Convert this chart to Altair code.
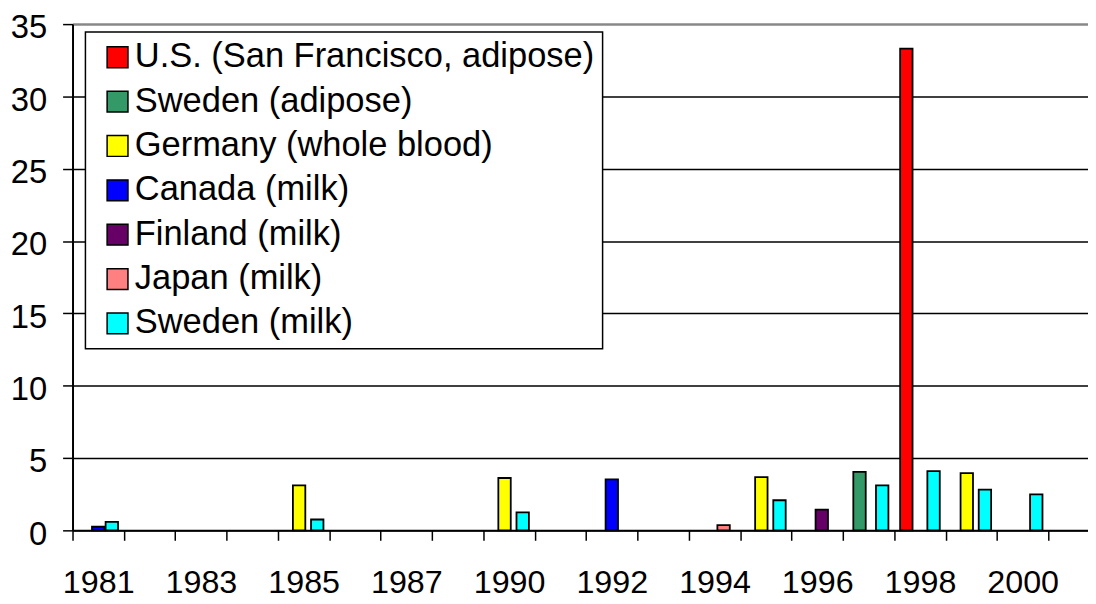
import json
import altair as alt
import pandas as pd

# ---- categories ----
years = ["1981", "1982", "1983", "1984", "1985", "1986", "1987", "1988", "1990", "1991",
         "1992", "1993", "1994", "1995", "1996", "1997", "1998", "1999", "2000", "2001"]
year_labels = ["1981", "1983", "1985", "1987", "1990", "1992", "1994", "1996", "1998", "2000"]

series_names = ["U.S. (San Francisco, adipose)", "Sweden (adipose)", "Germany (whole blood)",
                "Canada (milk)", "Finland (milk)", "Japan (milk)", "Sweden (milk)"]
series_colors = ["#FF0000", "#339966", "#FFFF00", "#0000FF", "#660066", "#FF8080", "#00FFFF"]

# ---- series values ----
us_sf_years = ["1998"]
us_sf_values = [33.3]
sweden_adipose_years = ["1997"]
sweden_adipose_values = [4.05]
germany_blood_years = ["1985", "1990", "1995", "1999"]
germany_blood_values = [3.11, 3.62, 3.68, 3.96]
canada_milk_years = ["1981", "1992"]
canada_milk_values = [0.25, 3.52]
finland_milk_years = ["1996"]
finland_milk_values = [1.44]
japan_milk_years = ["1994"]
japan_milk_values = [0.36]
sweden_milk_years = ["1981", "1985", "1990", "1995", "1997", "1998", "1999", "2000"]
sweden_milk_values = [0.58, 0.75, 1.24, 2.08, 3.11, 4.10, 2.82, 2.48]

series_data = [
    (us_sf_years, us_sf_values),
    (sweden_adipose_years, sweden_adipose_values),
    (germany_blood_years, germany_blood_values),
    (canada_milk_years, canada_milk_values),
    (finland_milk_years, finland_milk_values),
    (japan_milk_years, japan_milk_values),
    (sweden_milk_years, sweden_milk_values),
]

rows = []
for name, (ys, vs) in zip(series_names, series_data):
    for y, v in zip(ys, vs):
        rows.append({"year": y, "series": name, "value": v})
df = pd.DataFrame(rows)

FONT = "Liberation Sans"
label_expr = "indexof(" + json.dumps(year_labels) + ", datum.label) >= 0 ? datum.label : ''"

# layout (style) constants
band_step = 51.74          # category width in px
slot_step = 4.57           # shift between series inside a category (overlapped clusters)
n_slots = len(series_names)
half = band_step / 2
offset_range = [half - slot_step * n_slots / 2, half + slot_step * n_slots / 2]

x_axis = alt.Axis(
    title=None, tickBand="extent", tickSize=10, tickWidth=1.5, tickColor="black",
    domainColor="black", domainWidth=2, labelFontSize=32.5, labelPadding=27,
    labelAngle=0, labelColor="black", labelFont=FONT, labelOverlap=False,
    labelExpr=label_expr, grid=False,
)

y_axis = alt.Axis(
    title=None, values=[0, 5, 10, 15, 20, 25, 30, 35], tickSize=10, tickWidth=1.5,
    tickColor="black", domainColor="black", domainWidth=2, labelFontSize=33,
    labelPadding=16, labelOffset=4, labelColor="black", labelFont=FONT, grid=True,
    gridColor={"condition": {"test": "datum.value === 35", "value": "#888888"}, "value": "black"},
    gridWidth={"condition": {"test": "datum.value === 35", "value": 2.5}, "value": 1.5},
)

legend = alt.Legend(
    title=None, orient="none", legendX=13, legendY=8, fillColor="white",
    strokeColor="black", padding=8, symbolType="square", symbolSize=441,
    symbolStrokeColor="black", symbolStrokeWidth=1.5, symbolOffset=7,
    labelFontSize=34.7, labelFont=FONT, labelColor="black", labelOffset=0,
    labelLimit=700, rowPadding=8.7, symbolOpacity=1,
)

chart = alt.Chart(df).mark_bar(width=12.5, stroke="black", strokeWidth=1.8).encode(
    x=alt.X("year:N", sort=years,
            scale=alt.Scale(domain=years, range=[0, band_step * len(years)],
                            paddingInner=0, paddingOuter=0),
            axis=x_axis),
    xOffset=alt.XOffset("series:N", sort=series_names,
                        scale=alt.Scale(domain=series_names, range=offset_range,
                                        paddingInner=0, paddingOuter=0)),
    y=alt.Y("value:Q", scale=alt.Scale(domain=[0, 35], nice=False), axis=y_axis),
    color=alt.Color("series:N", sort=series_names,
                    scale=alt.Scale(domain=series_names, range=series_colors),
                    legend=legend),
).properties(
    width=1023, height=510,
    autosize=alt.AutoSizeParams(type="none"),
    padding={"left": 65, "top": 14, "right": 0, "bottom": 76},
    background="white",
).configure_view(
    stroke=None
).configure_legend(
    strokeWidth=1.5
)

chart.save("out.html", embed_options={"renderer": "svg", "actions": False})
